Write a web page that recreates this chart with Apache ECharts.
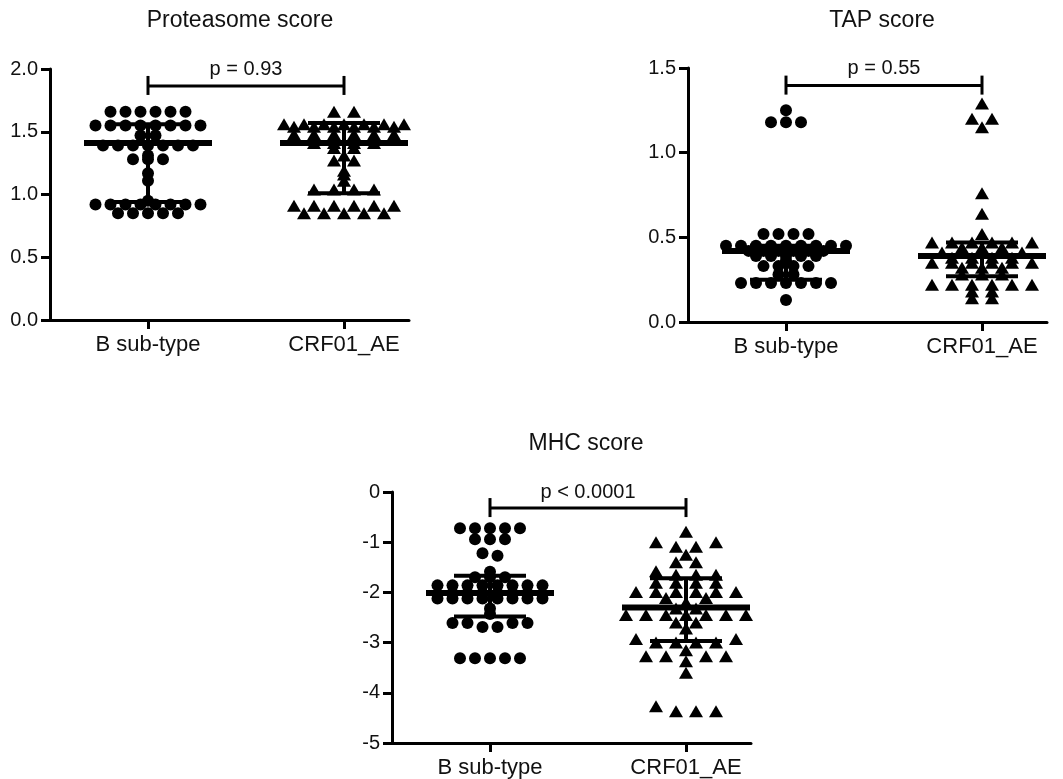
<!DOCTYPE html>
<html><head><meta charset="utf-8">
<script src="https://cdn.jsdelivr.net/npm/echarts@6/dist/echarts.min.js"></script>
<style>html,body{margin:0;padding:0;background:#fff}#c{width:1063px;height:779px}</style>
</head><body><div id="c"></div>
<script>
// ---------- data ----------
const categories = ['B sub-type', 'CRF01_AE'];
const panelTitles = ['Proteasome score', 'TAP score', 'MHC score'];
const pLabels = ['p = 0.93', 'p = 0.55', 'p < 0.0001'];
const bracketY = [1.865, 1.396, -0.32];
const yMin = [0, 0, -5];
const yMax = [2, 1.5, 0];
const yStep = [0.5, 0.5, 1];
const yDecimals = [1, 1, 0];

const protB = [1.66,1.66,1.66,1.66,1.66,1.66,
  1.55,1.55,1.55,1.55,1.55,1.55,1.55,1.55,
  1.47,1.47,
  1.39,1.39,1.39,1.39,1.39,1.39,1.39,
  1.31, 1.28,1.28,1.28, 1.17, 1.11,
  0.95,
  0.92,0.92,0.92,0.92,0.92,0.92,0.92,0.92,
  0.85,0.85,0.85,0.85,0.85];
const protAE = [1.66,1.66,
  1.56,1.56,1.56,1.56,1.56,1.56,1.56,
  1.54,1.54,1.54,1.54,1.54,1.54,
  1.48,1.48,1.48,1.48,1.48,1.48,
  1.41,1.41,1.41,1.41,
  1.37,1.37, 1.31, 1.27,1.27, 1.19, 1.16, 1.11,
  1.04,1.04,1.04,1.04,
  0.91,0.91,0.91,0.91,0.91,0.91,
  0.85,0.85,0.85,0.85,0.85];
const tapB = [1.25, 1.18,1.18,1.18,
  0.52,0.52,0.52,0.52,
  0.45,0.45,0.45,0.45,0.45,0.45,0.45,0.45,0.45,
  0.42,0.42,0.42,0.42,0.42,0.42,
  0.39,0.39,0.39,0.39,0.39,
  0.365,
  0.33,0.33,0.33,0.33,
  0.28,0.28,
  0.23,0.23,0.23,0.23,0.23,0.23,0.23,
  0.13];
const tapAE = [1.29, 1.20,1.20, 1.15, 0.76, 0.64, 0.52,
  0.47,0.47,0.47,0.47,0.47,0.47,
  0.44,0.44,0.44,
  0.41,0.41,0.41,0.41,0.41,
  0.38,0.38,0.38,0.38,
  0.35,0.35,0.35,0.35,0.35,0.35,
  0.32,0.32,0.32,
  0.28,0.28,0.28,
  0.22,0.22,0.22,0.22,0.22,0.22,
  0.18,0.18, 0.14,0.14];
const mhcB = [-0.72,-0.72,-0.72,-0.72,-0.72,
  -0.94,-0.94,-0.94,
  -1.22, -1.27, -1.59,
  -1.70,-1.70,-1.70,
  -1.86,-1.86,-1.86,-1.86,-1.86,-1.86,-1.86,-1.86,
  -2.01,-2.01,-2.01,-2.01,-2.01,-2.01,
  -2.12,-2.12,-2.12,-2.12,-2.12,-2.12,-2.12,-2.12,
  -2.32, -2.43,
  -2.61,-2.61,-2.61,-2.61,
  -2.69,-2.69,
  -3.31,-3.31,-3.31,-3.31,-3.31];
const mhcAE = [-0.79, -1.00,-1.00, -1.09,-1.09, -1.25, -1.40,-1.40,
  -1.58, -1.65,-1.65,-1.65,
  -1.81,-1.81,-1.81,-1.81,
  -1.99,-1.99,-1.99,-1.99,-1.99,-1.99,
  -2.11,-2.11, -2.20, -2.32,-2.32,
  -2.45,-2.45,-2.45,-2.45,-2.45,-2.45,-2.45,
  -2.60,-2.60, -2.72, -2.93,-2.93,
  -3.00,-3.00,-3.00,-3.00, -3.15,
  -3.27,-3.27,-3.27,-3.27, -3.37, -3.60,
  -4.27, -4.37,-4.37,-4.37];

// median, Q1, Q3 per panel: [B, CRF01_AE]
const medians = [[1.41, 1.41], [0.42, 0.39], [-2.01, -2.30]];
const q1s     = [[0.94, 1.01], [0.25, 0.27], [-2.48, -2.97]];
const q3s     = [[1.56, 1.57], [0.45, 0.47], [-1.67, -1.72]];

const groups = [[protB, protAE], [tapB, tapAE], [mhcB, mhcAE]];

// ---------- layout ----------
const grids = [
  {left: 50, top: 69, width: 359, height: 251},
  {left: 688, top: 68, width: 359, height: 254},
  {left: 392, top: 492, width: 359, height: 251}
];
const titlePos = [[240, 21], [882, 21], [586, 444]];
const rowTolerance = [[0, 0], [0, 0], [0.09, 0.11]];   // how close values must be to share a row
const X_MIN = 0.5, PX_PER_UNIT = 196, X_MAX = 0.5 + 359 / 196;
const FONT = '"Liberation Sans", Arial, sans-serif';
const INK = '#111';

// Prism-like rows: near-equal values share a row, spread symmetrically around the category
function swarm(values, cat, spacingPx, tol) {
  const sorted = values.slice().sort((a, b) => b - a);
  const rows = [];
  sorted.forEach((v, i) => {
    if (i > 0 && sorted[i - 1] - v <= tol + 1e-9) rows[rows.length - 1].push(v);
    else rows.push([v]);
  });
  const out = [];
  rows.forEach(arr => {
    const n = arr.length;
    // slot offsets ordered outside-in, alternating left / right
    const slots = [];
    for (let i = 0; i < n; i++) slots.push((i - (n - 1) / 2) * spacingPx);
    const order = [];
    let l = 0, r = n - 1;
    while (l <= r) { order.push(slots[l++]); if (l <= r) order.push(slots[r--]); }
    arr.forEach((v, i) => out.push([cat + order[i] / PX_PER_UNIT, v]));
  });
  return out;
}

function renderStats(params, api) {
  const x = api.value(0);
  const m = api.coord([x, api.value(1)]);
  const lo = api.coord([x, api.value(2)]);
  const hi = api.coord([x, api.value(3)]);
  const s4 = {stroke: '#000', lineWidth: 4};
  return {type: 'group', children: [
    {type: 'line', shape: {x1: hi[0], y1: hi[1], x2: lo[0], y2: lo[1]}, style: s4},
    {type: 'line', shape: {x1: hi[0] - 36, y1: hi[1], x2: hi[0] + 36, y2: hi[1]}, style: s4},
    {type: 'line', shape: {x1: lo[0] - 36, y1: lo[1], x2: lo[0] + 36, y2: lo[1]}, style: s4},
    {type: 'line', shape: {x1: m[0] - 64, y1: m[1], x2: m[0] + 64, y2: m[1]}, style: {stroke: '#000', lineWidth: 6}}
  ]};
}

function makeBracketRenderer(label) {
  return function (params, api) {
    const a = api.coord([api.value(0), api.value(2)]);
    const b = api.coord([api.value(1), api.value(2)]);
    const t = api.coord([(api.value(0) + api.value(1)) / 2, api.value(3)]);
    const st = {stroke: '#000', lineWidth: 3};
    return {type: 'group', children: [
      {type: 'line', shape: {x1: a[0], y1: a[1], x2: b[0], y2: b[1]}, style: st},
      {type: 'line', shape: {x1: a[0], y1: a[1] - 10, x2: a[0], y2: a[1] + 9}, style: st},
      {type: 'line', shape: {x1: b[0], y1: b[1] - 10, x2: b[0], y2: b[1] + 9}, style: st},
      {type: 'text', x: t[0], y: t[1], style: {text: label, align: 'center', verticalAlign: 'middle',
        font: '20px ' + FONT, fill: INK}}
    ]};
  };
}

const xAxes = [], yAxes = [], series = [], graphics = [];
for (let p = 0; p < 3; p++) {
  xAxes.push({
    gridIndex: p, type: 'value', min: X_MIN, max: X_MAX,
    axisLine: {show: true, onZero: false, lineStyle: {color: '#000', width: 3}},
    axisTick: {show: true, customValues: [1, 2], length: 9, lineStyle: {color: '#000', width: 3}},
    axisLabel: {show: true, customValues: [1, 2], margin: 14, fontSize: 22, fontFamily: FONT, color: INK,
      formatter: v => categories[Math.round(v) - 1] || ''},
    splitLine: {show: false}
  });
  yAxes.push({
    gridIndex: p, type: 'value', min: yMin[p], max: yMax[p], interval: yStep[p],
    axisLine: {show: true, onZero: false, lineStyle: {color: '#000', width: 3}},
    axisTick: {show: true, length: 9, lineStyle: {color: '#000', width: 3}},
    axisLabel: {margin: 12, fontSize: 20, fontFamily: FONT, color: INK,
      formatter: v => Number(v).toFixed(yDecimals[p])},
    splitLine: {show: false}
  });
  series.push({
    type: 'scatter', xAxisIndex: p, yAxisIndex: p, symbol: 'circle', symbolSize: 12,
    itemStyle: {color: '#000', opacity: 1}, silent: true, z: 3,
    data: swarm(groups[p][0], 1, 15, rowTolerance[p][0])
  });
  series.push({
    type: 'scatter', xAxisIndex: p, yAxisIndex: p, symbol: 'triangle', symbolSize: [14, 12],
    itemStyle: {color: '#000', opacity: 1}, silent: true, z: 3,
    data: swarm(groups[p][1], 2, 20, rowTolerance[p][1])
  });
  series.push({
    type: 'custom', xAxisIndex: p, yAxisIndex: p, renderItem: renderStats, z: 4, silent: true,
    encode: {x: 0, y: 1},
    data: [[1, medians[p][0], q1s[p][0], q3s[p][0]], [2, medians[p][1], q1s[p][1], q3s[p][1]]]
  });
  series.push({
    type: 'custom', xAxisIndex: p, yAxisIndex: p, renderItem: makeBracketRenderer(pLabels[p]), z: 4, silent: true,
    encode: {x: 0, y: 2},
    data: [[1, 2, bracketY[p], yMax[p]]]
  });
  graphics.push({type: 'text', x: titlePos[p][0], y: titlePos[p][1],
    style: {text: panelTitles[p], align: 'center', verticalAlign: 'middle', font: '23px ' + FONT, fill: INK}});
}

const chart = echarts.init(document.getElementById('c'), null, {renderer: 'canvas'});
chart.setOption({
  backgroundColor: '#fff',
  animation: false,
  grid: grids,
  xAxis: xAxes,
  yAxis: yAxes,
  series: series,
  graphic: graphics
});
</script></body></html>
